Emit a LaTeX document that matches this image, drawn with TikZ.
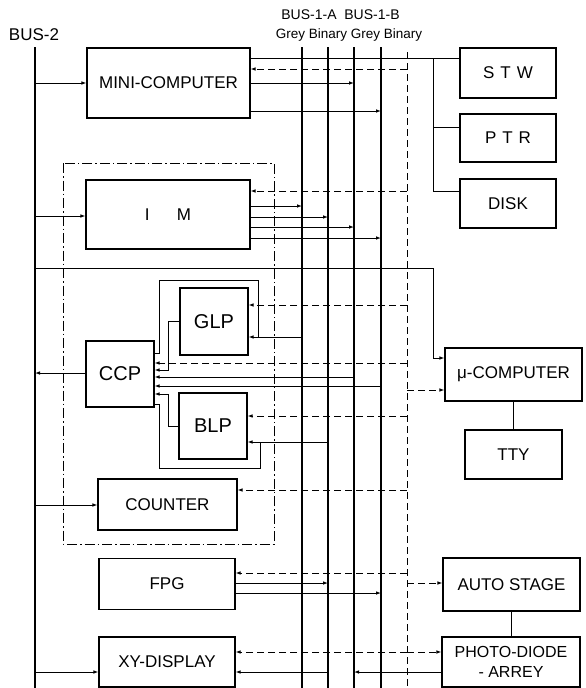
\documentclass[tikz,border=0pt]{standalone}
\usepackage{fontspec}
\setmainfont{Liberation Sans}
\usetikzlibrary{arrows.meta}

\begin{document}
\begin{tikzpicture}[x=1pt,y=-1pt,
  blk/.style={draw, line width=1.1pt, inner sep=0pt, align=center, font=\fontsize{17}{20}\selectfont},
  bus/.style={line width=2.6pt},
  wire/.style={line width=0.9pt},
  sig/.style={wire, -{Latex[length=5pt,width=3.6pt]}},
  ctrl/.style={line width=0.9pt, dash pattern=on 7pt off 4pt},
  ctrlsig/.style={ctrl, -{Latex[length=5pt,width=3.6pt]}},
  lbl/.style={inner sep=0pt, font=\fontsize{14}{16}\selectfont}]
  \useasboundingbox (0,0) rectangle (586,688);

  \node[lbl, font=\fontsize{17}{19}\selectfont] (lbus2) at (34,35) {BUS-2};
  \node[lbl] (lbusa) at (309,15) {BUS-1-A};
  \node[lbl] (lbusb) at (372,15) {BUS-1-B};
  \node[lbl, font=\fontsize{13.5}{16}\selectfont] (lcode) at (349,35) {Grey Binary Grey Binary};

  \coordinate (bus2) at (35,47);
  \coordinate (ga) at (302,47);
  \coordinate (ba) at (328,47);
  \coordinate (gb) at (354,47);
  \coordinate (bb) at (381,47);
  \coordinate (ctl) at (407,52);
  \foreach \c in {bus2,ga,ba,gb,bb}
    \draw[bus] (\c) -- (\c |- 0,688);
  \draw[ctrl] (ctl) -- (ctl |- 0,688);

  \node[blk, minimum width=163pt, minimum height=70pt] (mini) at (168.5,83) {MINI-COMPUTER};
  \node[blk, minimum width=96pt, minimum height=50pt] (stw) at (508,73) {S\hspace{0.35em}T\hspace{0.35em}W};
  \node[blk, minimum width=96pt, minimum height=48pt] (ptr) at (508,138) {P\hspace{0.35em}T\hspace{0.35em}R};
  \node[blk, minimum width=96pt, minimum height=49pt] (disk) at (508,203.5) {DISK};
  \node[blk, minimum width=164pt, minimum height=69pt] (im) at (168,214.5) {I\hspace{1.6em}M};
  \node[blk, minimum width=68pt, minimum height=67pt, font=\fontsize{20}{24}\selectfont] (glp) at (214,321.5) {GLP};
  \node[blk, minimum width=68pt, minimum height=66pt, font=\fontsize{20}{24}\selectfont] (ccp) at (120,374) {CCP};
  \node[blk, minimum width=68pt, minimum height=66pt, font=\fontsize{20}{24}\selectfont] (blp) at (213,426) {BLP};
  \node[blk, minimum width=139pt, minimum height=51pt] (counter) at (167.5,504.5) {COUNTER};
  \node[blk, minimum width=136pt, minimum height=51pt] (fpg) at (167,584) {FPG};
  \node[blk, minimum width=136pt, minimum height=50pt] (xy) at (167,662) {XY-DISPLAY};
  \node[blk, minimum width=137pt, minimum height=53pt] (mu) at (513.5,374.5) {μ-COMPUTER};
  \node[blk, minimum width=97pt, minimum height=49pt] (tty) at (513.5,454.5) {TTY};
  \node[blk, minimum width=137pt, minimum height=53pt] (auto) at (511.5,584.5) {AUTO STAGE};
  \node[blk, minimum width=138pt, minimum height=50pt, font=\fontsize{16}{20}\selectfont] (photo) at (511,662) {PHOTO-DIODE\\- ARREY};

  \draw[line width=0.9pt, dash pattern=on 10pt off 3pt on 1.5pt off 3pt] (63,163) rectangle (274,544);

  \foreach \n/\y in {mini/83, im/216, counter/505, xy/672}
    \draw[sig] (bus2 |- 0,\y) -- (\n.west |- 0,\y);
  \draw[sig] (ccp.west |- 0,373) -- (bus2 |- 0,373);

  \foreach \n/\b/\y in {mini/gb/83, mini/bb/111, im/ga/206, im/ba/217, im/gb/227, im/bb/238, fpg/ba/583, fpg/bb/593}
    \draw[sig] (\n.east |- 0,\y) -- (\b |- 0,\y);
  \foreach \b/\n/\y in {ga/glp/337, ba/blp/442, gb/ccp/377, bb/ccp/386, ba/xy/672}
    \draw[sig] (\b |- 0,\y) -- (\n.east |- 0,\y);
  \draw[sig] (photo.west |- 0,672) -- (gb |- 0,672);

  \foreach \n/\y in {mini/69, im/191, glp/305, ccp/363, blp/416, counter/490, fpg/573, xy/652}
    \draw[ctrlsig] (ctl |- 0,\y) -- (\n.east |- 0,\y);
  \foreach \n/\y in {mu/390, auto/583, photo/652}
    \draw[ctrlsig] (ctl |- 0,\y) -- (\n.west |- 0,\y);

  \coordinate (gtap) at (258,337);
  \coordinate (btap) at (260,442);
  \draw[wire] (gtap) |- (159,280) |- (ccp.east |- 0,353);
  \draw[wire] (btap) |- (159,468) |- (ccp.east |- 0,404);
  \draw[sig] (glp.west |- 0,321) -| (168,370) -- (ccp.east |- 0,370);
  \draw[sig] (blp.west |- 0,426) -| (168,394) -- (ccp.east |- 0,394);

  \coordinate (ptap) at (433,58);
  \draw[wire] (mini.east |- 0,58) -- (stw.west |- 0,58);
  \draw[wire] (ptap) |- (disk.west |- 0,191);
  \draw[wire] (ptap |- 0,127) -- (ptr.west |- 0,127);
  \draw[sig] (bus2 |- 0,268) -| (433,358) -- (mu.west |- 0,358);

  \draw[wire] (mu.south) -- (tty.north);
  \draw[wire] (auto.south) -- (auto.south |- photo.north);
\end{tikzpicture}
\end{document}
